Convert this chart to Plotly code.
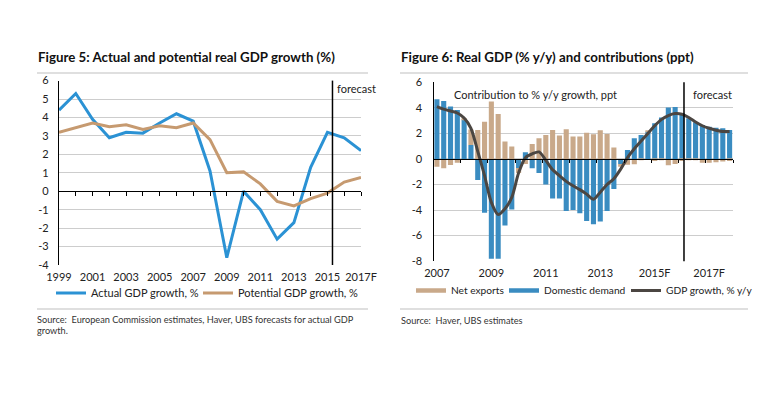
import plotly.graph_objects as go

# ---------------- Figure 5 data (annual) ----------------
years5 = list(range(1999, 2018))
actual_gdp = [4.4, 5.3, 3.9, 2.9, 3.2, 3.15, 3.7, 4.2, 3.8, 1.1, -3.6, 0.0,
              -1.0, -2.6, -1.7, 1.3, 3.2, 2.9, 2.2]
potential_gdp = [3.2, 3.45, 3.7, 3.5, 3.6, 3.35, 3.55, 3.45, 3.7, 2.8, 1.0,
                 1.05, 0.4, -0.55, -0.8, -0.4, -0.1, 0.5, 0.75]
x5_tickvals = [1999, 2001, 2003, 2005, 2007, 2009, 2011, 2013, 2015, 2017]
x5_ticktext = ["1999", "2001", "2003", "2005", "2007", "2009", "2011",
               "2013", "2015", "2017F"]
y5_tickvals = [-4, -3, -2, -1, 0, 1, 2, 3, 4, 5, 6]
y5_ticktext = ["-4", "-3", "-2", "-1", "0", "1", "2", "3", "4", "5", "6"]
forecast5 = 2015.3

# ---------------- Figure 6 data (quarterly 2007Q1-2017Q4) ----------------
quarters = [f"{y}Q{q}" for y in range(2007, 2018) for q in range(1, 5)]
net_exports = [-0.6, -0.73, -0.47, -0.3, 0.1, 1.2, 2.27, 2.92, 4.49, 3.52,
               1.36, 0.97, -0.4, -0.4, 1.17, 1.62, 1.88, 2.27, 1.83, 2.32,
               1.75, 1.75, 2.06, 1.93, 2.25, 1.96, 0.89, -0.2, -0.45, -0.42,
               -0.1, 0.05, -0.15, -0.05, -0.5, -0.4, -0.15, -0.05, -0.1, -0.3,
               -0.3, -0.25, -0.2, -0.15]
domestic_demand = [4.67, 4.54, 4.1, 3.84, 3.1, 1.1, -1.65, -4.2, -7.8, -7.8,
                   -5.2, -3.95, -0.7, 0.52, -0.73, -1.1, -2.0, -3.1, -3.1,
                   -4.07, -4.0, -4.25, -4.85, -5.1, -4.9, -4.07, -2.35, -0.4,
                   0.7, 1.62, 1.88, 2.14, 2.8, 3.24, 4.02, 4.07, 3.6, 3.19,
                   2.87, 2.66, 2.53, 2.45, 2.4, 2.27]
gdp_growth = [4.1, 3.9, 3.75, 3.6, 3.2, 2.4, 0.6, -1.3, -3.4, -4.35, -3.9,
              -3.0, -1.1, 0.1, 0.4, 0.55, -0.1, -0.85, -1.3, -1.75, -2.1,
              -2.4, -2.75, -3.15, -2.6, -2.0, -1.55, -0.8, 0.1, 0.8, 1.4, 2.0,
              2.6, 3.1, 3.4, 3.55, 3.5, 3.25, 2.9, 2.6, 2.4, 2.25, 2.15, 2.15]
x6_ticklabels = ["2007", "2009", "2011", "2013", "2015F", "2017F"]
x6_label_quarters = ["2007Q1", "2009Q1", "2011Q1", "2013Q1", "2015Q1", "2017Q1"]
y6_tickvals = [-8, -6, -4, -2, 0, 2, 4, 6]
y6_ticktext = ["-8", "-6", "-4", "-2", "0", "2", "4", "6"]
forecast6_quarter = "2016Q1"

# ---------------- styling ----------------
PAGE_OFF = 8               # default page margin around the figure
W, H = 777 - PAGE_OFF, 400 - PAGE_OFF
FONT = "Lato"
TXT = "#222222"
BLUE5 = "#2b92d4"
BROWN5 = "#c69a70"
BAR_BLUE = "#3a8cc1"
BAR_BROWN = "#c9a98a"
LINE_DARK = "#4b4642"
GRID = "#cdcdcd"


def fx(px):
    return (px - PAGE_OFF) / W


def fy(py):
    return 1 - (py - PAGE_OFF) / H


qidx = list(range(len(quarters)))
x6_tickvals = [quarters.index(q) for q in x6_label_quarters]
year_bounds6 = [i + 3.5 for i in range(0, len(quarters), 4)]
forecast6 = quarters.index(forecast6_quarter) + 0.3

dom_x5 = [fx(59), fx(361)]
dom_y5 = [fy(265), fy(80.6)]
dom_x6 = [fx(433.5), fx(733)]
dom_y6 = [fy(261.2), fy(82.3)]
yr5 = [min(y5_tickvals), max(y5_tickvals)]
yr6 = [min(y6_tickvals), max(y6_tickvals)]
zero5 = dom_y5[0] + (0 - yr5[0]) / (yr5[1] - yr5[0]) * (dom_y5[1] - dom_y5[0])
zero6 = dom_y6[0] + (0 - yr6[0]) / (yr6[1] - yr6[0]) * (dom_y6[1] - dom_y6[0])

fig = go.Figure()

# Figure 5 lines
fig.add_trace(go.Scatter(x=years5, y=actual_gdp, mode="lines",
                         name="Actual GDP growth, %",
                         line=dict(color=BLUE5, width=3),
                         xaxis="x", yaxis="y", legend="legend"))
fig.add_trace(go.Scatter(x=years5, y=potential_gdp, mode="lines",
                         name="Potential GDP growth, %",
                         line=dict(color=BROWN5, width=3),
                         xaxis="x3", yaxis="y", legend="legend2"))

# Figure 6 bars
fig.add_trace(go.Bar(x=qidx, y=domestic_demand, name="Domestic demand",
                     marker=dict(color=BAR_BLUE, line=dict(width=0)),
                     xaxis="x2", yaxis="y2", showlegend=False))
fig.add_trace(go.Bar(x=qidx, y=net_exports, name="Net exports",
                     marker=dict(color=BAR_BROWN, line=dict(width=0)),
                     xaxis="x2", yaxis="y2", showlegend=False))
fig.add_trace(go.Scatter(x=qidx, y=gdp_growth, mode="lines",
                         name="GDP growth, % y/y", showlegend=False,
                         line=dict(color=LINE_DARK, width=3, shape="spline",
                                   smoothing=0.8),
                         xaxis="x4", yaxis="y2"))
# legend entries for figure 6 (Excel style line samples)
for nm, col, wd, lg in [("Net exports", BAR_BROWN, 4.5, "legend3"),
                        ("Domestic demand", BAR_BLUE, 4.5, "legend4"),
                        ("GDP growth, % y/y", LINE_DARK, 3, "legend5")]:
    fig.add_trace(go.Scatter(x=[None], y=[None], mode="lines", name=nm,
                             line=dict(color=col, width=wd),
                             xaxis="x2", yaxis="y2", legend=lg,
                             hoverinfo="skip"))

tickfont = dict(family=FONT, size=11, color=TXT)


def legend_at(text_left_px, y_px, size):
    return dict(orientation="h", x=fx(text_left_px - 40), y=fy(y_px),
                xanchor="left", yanchor="middle",
                font=dict(family=FONT, size=size, color=TXT),
                bgcolor="rgba(0,0,0,0)", itemwidth=30)


fig.update_layout(
    width=W, height=H,
    margin=dict(l=0, r=0, t=0, b=0, autoexpand=False),
    paper_bgcolor="white", plot_bgcolor="white",
    font=dict(family=FONT, color=TXT, size=11),
    barmode="relative", bargap=0.25,
    xaxis=dict(domain=dom_x5, range=[years5[0], years5[-1]], anchor="y",
               tickvals=x5_tickvals, ticktext=x5_ticktext, showgrid=False,
               showline=False, zeroline=False, ticks="", tickfont=tickfont,
               ticklabelstandoff=4, automargin=False),
    xaxis3=dict(domain=dom_x5, range=[years5[0], years5[-1]], overlaying="x",
                anchor="free", position=zero5, tickvals=years5[1:],
                ticks="outside", ticklen=4, tickwidth=1.3, tickcolor="black",
                showticklabels=False, showline=True, linecolor="black",
                linewidth=1.3, showgrid=False, zeroline=False,
                automargin=False),
    yaxis=dict(domain=dom_y5, range=yr5, anchor="x", tickvals=y5_tickvals,
               ticktext=y5_ticktext, showgrid=True, gridcolor=GRID,
               gridwidth=1.2, showline=True, linecolor="black", linewidth=1.3,
               zeroline=False, ticks="", tickfont=tickfont,
               ticklabelstandoff=7, automargin=False),
    xaxis2=dict(domain=dom_x6, range=[-0.5, len(quarters) - 0.5], anchor="y2",
                tickvals=x6_tickvals, ticktext=x6_ticklabels, showgrid=False,
                showline=False, zeroline=False, ticks="", tickfont=tickfont,
                ticklabelstandoff=4, automargin=False),
    xaxis4=dict(domain=dom_x6, range=[-0.5, len(quarters) - 0.5],
                overlaying="x2", anchor="free", position=zero6,
                tickvals=year_bounds6, ticks="outside", ticklen=3,
                tickwidth=1.3, tickcolor="black", showticklabels=False,
                showline=True, linecolor="black", linewidth=1.3,
                showgrid=False, zeroline=False, automargin=False),
    yaxis2=dict(domain=dom_y6, range=yr6, anchor="x2", tickvals=y6_tickvals,
                ticktext=y6_ticktext, showgrid=True, gridcolor=GRID,
                gridwidth=1.2, showline=True, linecolor="black",
                linewidth=1.3, zeroline=False, ticks="", tickfont=tickfont,
                ticklabelstandoff=8, automargin=False),
    legend=legend_at(91, 293, 11),
    legend2=legend_at(238, 293, 11),
    legend3=legend_at(451, 290.5, 10.2),
    legend4=legend_at(544, 290.5, 10.2),
    legend5=legend_at(666, 290.5, 10.2),
    showlegend=True,
)

shapes = []
# forecast lines
shapes.append(dict(type="line", xref="x", yref="y domain", x0=forecast5,
                   x1=forecast5, y0=0, y1=1,
                   line=dict(color="black", width=1.5), layer="above"))
shapes.append(dict(type="line", xref="x2", yref="y2 domain", x0=forecast6,
                   x1=forecast6, y0=0, y1=1,
                   line=dict(color="black", width=1.5), layer="above"))
# horizontal rules
for x0, x1 in [(37, 368), (400, 748)]:
    for yy in (73, 309):
        shapes.append(dict(type="line", xref="paper", yref="paper",
                           x0=fx(x0), x1=fx(x1), y0=fy(yy), y1=fy(yy),
                           line=dict(color="#d4d4d4", width=1.5)))
fig.update_layout(shapes=shapes)

src_font = dict(family=FONT, size=9.2, color="#333333")
ann = []
ann.append(dict(text="<b>Figure 5: Actual and potential real GDP growth (%)</b>",
                xref="paper", yref="paper", x=fx(36), y=fy(57),
                xanchor="left", yanchor="middle", showarrow=False,
                font=dict(family=FONT, size=13.3, color="#111111")))
ann.append(dict(text="<b>Figure 6: Real GDP (% y/y) and contributions (ppt)</b>",
                xref="paper", yref="paper", x=fx(399), y=fy(57),
                xanchor="left", yanchor="middle", showarrow=False,
                font=dict(family=FONT, size=13.3, color="#111111")))
ann.append(dict(text="forecast", xref="x", yref="paper", x=forecast5,
                y=fy(89), xanchor="left", yanchor="middle", xshift=3,
                showarrow=False, font=dict(family=FONT, size=11, color=TXT)))
ann.append(dict(text="forecast", xref="x2", yref="paper", x=forecast6,
                y=fy(95), xanchor="left", yanchor="middle", xshift=7,
                showarrow=False, font=dict(family=FONT, size=11, color=TXT)))
ann.append(dict(text="Contribution to % y/y growth, ppt", xref="paper",
                yref="paper", x=fx(452), y=fy(95), xanchor="left",
                yanchor="middle", showarrow=False,
                font=dict(family=FONT, size=11, color=TXT)))
ann.append(dict(text="Source:  European Commission estimates, Haver, UBS forecasts for actual GDP",
                xref="paper", yref="paper", x=fx(35), y=fy(319),
                xanchor="left", yanchor="middle", showarrow=False,
                font=src_font))
ann.append(dict(text="growth.", xref="paper", yref="paper", x=fx(35),
                y=fy(330), xanchor="left", yanchor="middle", showarrow=False,
                font=src_font))
ann.append(dict(text="Source:  Haver, UBS estimates", xref="paper",
                yref="paper", x=fx(399), y=fy(320), xanchor="left",
                yanchor="middle", showarrow=False, font=src_font))
fig.update_layout(annotations=ann)

fig.write_html("out.html")
